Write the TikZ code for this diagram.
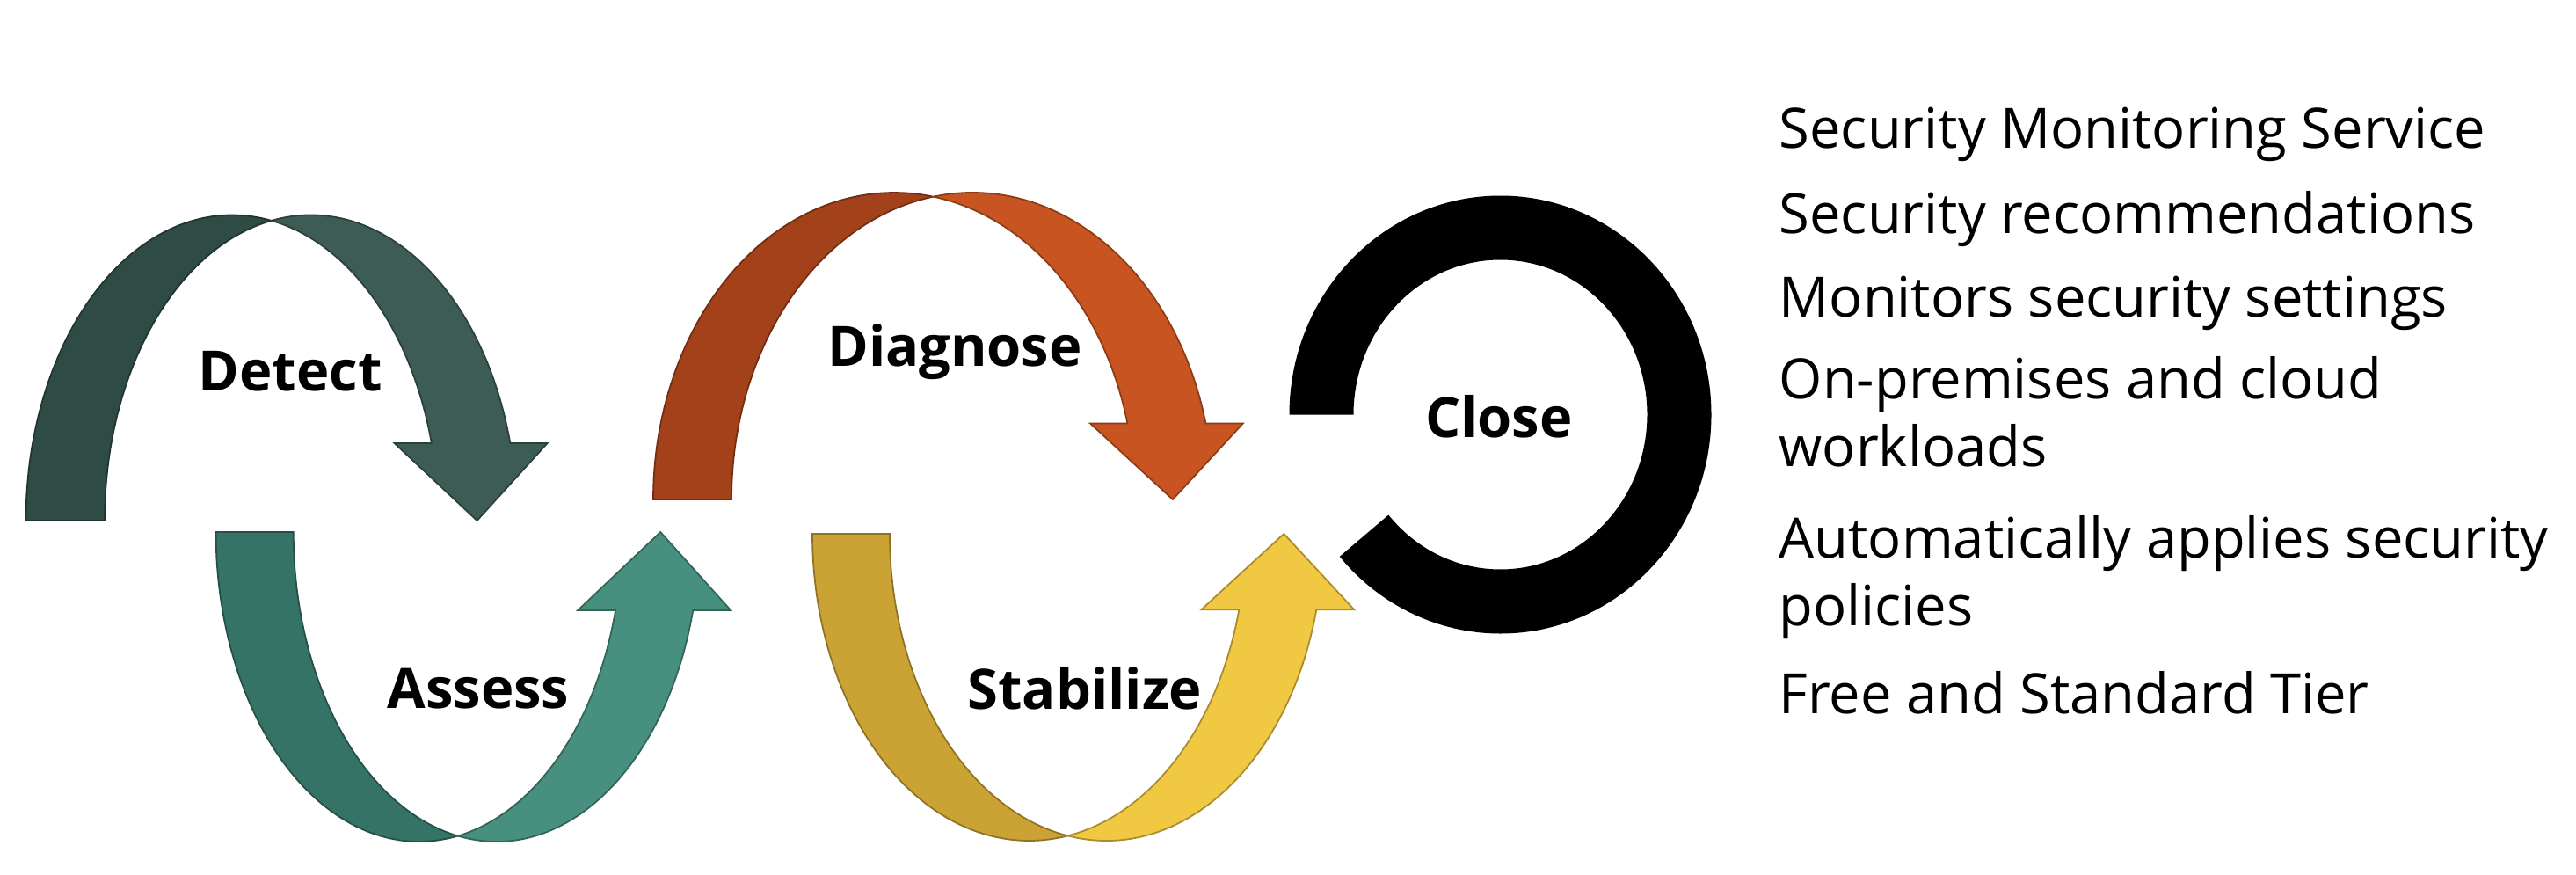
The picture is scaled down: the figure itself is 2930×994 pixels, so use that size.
\documentclass[tikz,border=0pt]{standalone}
\usepackage{fontspec}
\setmainfont{Open Sans}
\usetikzlibrary{calc}

\definecolor{detectL}{HTML}{2F4B45}
\definecolor{detectR}{HTML}{3D5C55}
\definecolor{assessL}{HTML}{357367}
\definecolor{assessR}{HTML}{478F7F}
\definecolor{diagL}{HTML}{A3411B}
\definecolor{diagR}{HTML}{C85521}
\definecolor{stabL}{HTML}{CBA335}
\definecolor{stabR}{HTML}{F1C841}

\begin{document}
\begin{tikzpicture}[x=0.1mm, y=0.1mm,
        band/.style={fill=#1, draw=#1!70!black, line width=0.5pt},
        tag/.style={font=\fontsize{18}{22}\selectfont\bfseries, anchor=base},
        item/.style={font=\fontsize{18}{21.9}\selectfont, anchor=base west, align=left, inner sep=0pt}]
        \useasboundingbox (0,0) rectangle (2930,994);
        \fill[white] (0,0) rectangle (2930,994);

        % detect
        \draw[band=detectL] (29.5,402)
        arc[start angle=180, end angle=79, x radius=234.5, y radius=347.5]
        arc[start angle=101, end angle=180, x radius=234.5, y radius=347.5] -- cycle;
        \draw[band=detectR] ($(264,402)+(14.67:234.5 and 347.5)$)
        arc[start angle=14.67, end angle=79, x radius=234.5, y radius=347.5]
        arc[start angle=101, end angle=14.67, x radius=234.5, y radius=347.5]
        -- (622.6,490) -- (542.6,402) -- (448.6,490) -- cycle;

        % assess
        \draw[band=assessL] (245.6,389)
        arc[start angle=180, end angle=281, x radius=231, y radius=352]
        arc[start angle=259, end angle=180, x radius=231, y radius=352] -- cycle;
        \draw[band=assessR] ($(476.6,389)+(-14.65:231 and 352)$)
        arc[start angle=-14.65, end angle=-79, x radius=231, y radius=352]
        arc[start angle=-101, end angle=-14.65, x radius=231, y radius=352]
        -- (831.2,300) -- (751.2,389) -- (657.2,300) -- cycle;

        % diagnose
        \draw[band=diagL] (743,426)
        arc[start angle=180, end angle=80.65, x radius=274, y radius=349]
        arc[start angle=99.35, end angle=180, x radius=274, y radius=349] -- cycle;
        \draw[band=diagR] ($(1017,426)+(14.37:274 and 349)$)
        arc[start angle=14.37, end angle=80.65, x radius=274, y radius=349]
        arc[start angle=99.35, end angle=14.37, x radius=274, y radius=349]
        -- (1413.9,512.6) -- (1333.9,426) -- (1239.9,512.6) -- cycle;

        % stabilize
        \draw[band=stabL] (924,387)
        arc[start angle=180, end angle=280.28, x radius=246.5, y radius=349]
        arc[start angle=259.72, end angle=180, x radius=246.5, y radius=349] -- cycle;
        \draw[band=stabR] ($(1170.5,387)+(-14.32:246.5 and 349)$)
        arc[start angle=-14.32, end angle=-79.72, x radius=246.5, y radius=349]
        arc[start angle=-100.28, end angle=-14.32, x radius=246.5, y radius=349]
        -- (1540.3,300.7) -- (1460.3,387) -- (1366.3,300.7) -- cycle;

        % close
        \fill[black] (1466.5,522.5)
        arc[start angle=180, end angle=-139.6, x radius=240, y radius=249]
        -- ($(1706.5,522.5)+(-139.6:167 and 176)$)
        arc[start angle=-139.6, end angle=180, x radius=167, y radius=176] -- cycle;

        % popisky
        \node[tag] (detect) at (330,550) {Detect};
        \node[tag] (assess) at (544,188.5) {Assess};
        \node[tag] (diagnose) at (1086,578) {Diagnose};
        \node[tag] (stabilize) at (1234,188) {Stabilize};
        \node[tag] (close) at (1705,496.5) {Close};

        % seznam
        \node[item] (monitoring) at (2023,825.7) {Security Monitoring Service};
        \node[item] (recommend) at (2023,729) {Security recommendations};
        \node[item] (settings) at (2023,634) {Monitors security settings};
        \node[item] (workloads) at (2023,464) {On-premises and cloud\\workloads};
        \node[item] (policies) at (2023,282.3) {Automatically applies security\\policies};
        \node[item] (tier) at (2023,182.3) {Free and Standard Tier};

    \end{tikzpicture}
\end{document}
